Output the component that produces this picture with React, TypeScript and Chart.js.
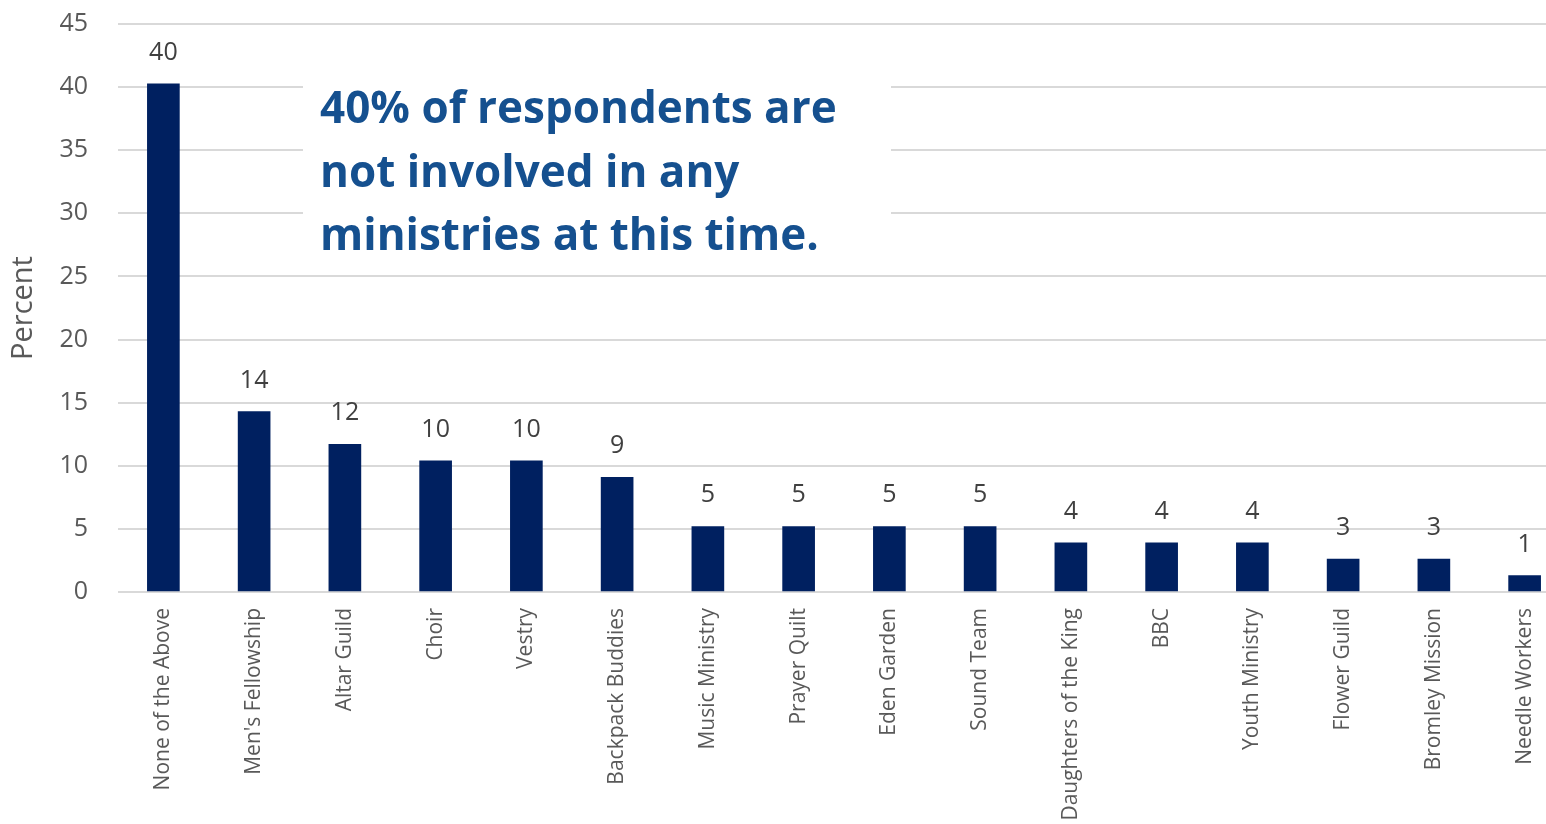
import React, { useEffect, useRef } from "react";
import { Chart, registerables } from "chart.js";

Chart.register(...registerables);

const categories = [
  "None of the Above",
  "Men's Fellowship",
  "Altar Guild",
  "Choir",
  "Vestry",
  "Backpack Buddies",
  "Music Ministry",
  "Prayer Quilt",
  "Eden Garden",
  "Sound Team",
  "Daughters of the King",
  "BBC",
  "Youth Ministry",
  "Flower Guild",
  "Bromley Mission",
  "Needle Workers",
];

const percentValues = [
  40.26, 14.29, 11.69, 10.39, 10.39, 9.09, 5.19, 5.19, 5.19, 5.19, 3.9, 3.9, 3.9, 2.6, 2.6, 1.3,
];

const calloutLines = [
  "40% of respondents are",
  "not involved in any",
  "ministries at this time.",
];

const yAxisTitle = "Percent";

const BAR_COLOR = "#002060";
const AXIS_TEXT = "#595959";
const LABEL_TEXT = "#404040";
const GRID = "#d9d9d9";
const CALLOUT_COLOR = "#15508f";

const calloutPlugin = {
  id: "callout",
  beforeDatasetsDraw(chart: any) {
    const ctx = chart.ctx;
    ctx.save();
    ctx.fillStyle = "#ffffff";
    ctx.fillRect(303, 40, 588, 226);
    ctx.restore();
  },
  afterDraw(chart: any) {
    const ctx = chart.ctx;
    ctx.save();
    ctx.fillStyle = CALLOUT_COLOR;
    ctx.font = "bold 44px 'Open Sans'";
    ctx.textAlign = "left";
    ctx.textBaseline = "alphabetic";
    const baselines = [123, 187, 250];
    calloutLines.forEach((line, i) => ctx.fillText(line, 320, baselines[i]));
    ctx.restore();
  },
};

const dataLabelPlugin = {
  id: "dataLabels",
  afterDatasetsDraw(chart: any) {
    const ctx = chart.ctx;
    const meta = chart.getDatasetMeta(0);
    ctx.save();
    ctx.fillStyle = LABEL_TEXT;
    ctx.font = "25px 'Open Sans'";
    ctx.textAlign = "center";
    ctx.textBaseline = "alphabetic";
    meta.data.forEach((bar: any, i: number) => {
      const v = chart.data.datasets[0].data[i] as number;
      ctx.fillText(String(Math.round(v)), bar.x, bar.y - 24);
    });
    ctx.restore();
  },
};

export default function App() {
  const canvasRef = useRef<HTMLCanvasElement | null>(null);

  useEffect(() => {
    if (!canvasRef.current) return;
    const chart = new Chart(canvasRef.current, {
      type: "bar",
      data: {
        labels: categories,
        datasets: [
          {
            data: percentValues,
            backgroundColor: BAR_COLOR,
            barThickness: 32,
          },
        ],
      },
      options: {
        animation: false,
        responsive: true,
        maintainAspectRatio: false,
        layout: { padding: { top: 24, left: 0, right: 0, bottom: 0 } },
        plugins: {
          legend: { display: false },
          tooltip: { enabled: false },
        },
        scales: {
          x: {
            grid: { display: false },
            border: { display: false },
            ticks: {
              autoSkip: false,
              minRotation: 90,
              maxRotation: 90,
              padding: 8,
              color: AXIS_TEXT,
              font: { family: "'Open Sans'", size: 21 },
            },
            afterFit(scale: any) {
              scale.height = 232;
              scale.paddingLeft = 0;
              scale.paddingRight = 0;
            },
          },
          y: {
            min: 0,
            max: 45,
            grid: { color: GRID, lineWidth: 2, drawTicks: false },
            border: { display: false },
            ticks: {
              stepSize: 5,
              padding: 30,
              color: AXIS_TEXT,
              font: { family: "'Open Sans'", size: 25 },
            },
            title: {
              display: true,
              text: yAxisTitle,
              color: AXIS_TEXT,
              font: { family: "'Open Sans'", size: 29 },
              padding: { top: 6, bottom: 0 },
            },
            afterFit(scale: any) {
              scale.width = 118;
              scale.paddingTop = 0;
              scale.paddingBottom = 0;
            },
          },
        },
      },
      plugins: [calloutPlugin, dataLabelPlugin],
    });
    return () => chart.destroy();
  }, []);

  return (
    <div
      style={{
        position: "fixed",
        left: 0,
        top: 0,
        width: 1546,
        height: 824,
        overflow: "hidden",
        background: "#ffffff",
      }}
    >
      <div style={{ width: 1570, height: 824, position: "relative" }}>
        <canvas ref={canvasRef} />
      </div>
    </div>
  );
}
